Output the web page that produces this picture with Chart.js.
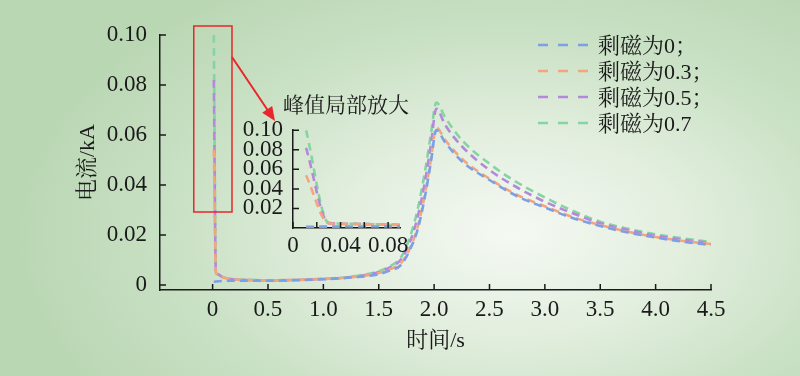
<!DOCTYPE html>
<html>
<head>
<meta charset="utf-8">
<script src="https://cdn.jsdelivr.net/npm/chart.js@4.4.1/dist/chart.umd.min.js"></script>
<style>
  html, body { margin: 0; padding: 0; }
  body {
    width: 800px; height: 376px; overflow: hidden; position: relative;
    background: radial-gradient(ellipse 62% 78% at 64% 62%, #f5f9f3 0%, #e2eede 35%, #c8e0c3 70%, #bad7b4 100%);
  }
  #main { position: absolute; left: 0; top: 0; }
  #inset { position: absolute; left: 215px; top: 90px; }
</style>
</head>
<body>
<canvas id="main" width="800" height="376"></canvas>
<canvas id="inset" width="270" height="172"></canvas>
<script>
// time (s)
const times = [0.011, 0.03, 0.05, 0.08, 0.12, 0.2, 0.3, 0.5, 0.75, 1.0, 1.25, 1.5, 1.6, 1.7, 1.78, 1.85, 1.92, 1.97,
  2.02, 2.1, 2.25, 2.5, 2.75, 3.0, 3.25, 3.5, 3.75, 4.0, 4.25, 4.5];

// current (kA) for each remanence level
const rem0 = [0.0013, 0.0014, 0.0015, 0.0016, 0.0017, 0.0017, 0.0017, 0.0017, 0.0019, 0.0023, 0.003, 0.0043, 0.0058, 0.008,
  0.014, 0.022, 0.036, 0.049, 0.062, 0.057, 0.0495, 0.042, 0.0355, 0.031, 0.0268, 0.0236, 0.021, 0.019, 0.0173, 0.016];
const rem03 = [0.054, 0.0048, 0.0041, 0.0033, 0.0027, 0.0022, 0.002, 0.0018, 0.002, 0.0024, 0.0031, 0.0048, 0.0063, 0.0088,
  0.0145, 0.023, 0.037, 0.05, 0.063, 0.058, 0.0505, 0.0425, 0.036, 0.0315, 0.0272, 0.024, 0.0213, 0.0192, 0.0176, 0.0164];
const rem05 = [0.082, 0.005, 0.0042, 0.0034, 0.0027, 0.0022, 0.002, 0.0018, 0.002, 0.0024, 0.0032, 0.0052, 0.007, 0.0102,
  0.017, 0.027, 0.042, 0.056, 0.0705, 0.064, 0.0555, 0.046, 0.039, 0.0333, 0.0287, 0.0247, 0.022, 0.0197, 0.0181, 0.0168];
const rem07 = [0.1, 0.0052, 0.0043, 0.0034, 0.0028, 0.0023, 0.0021, 0.0019, 0.0021, 0.0025, 0.0033, 0.0055, 0.0075, 0.011,
  0.019, 0.03, 0.046, 0.06, 0.073, 0.067, 0.058, 0.0485, 0.041, 0.035, 0.0297, 0.0253, 0.0225, 0.0203, 0.0186, 0.0172];

const seriesLabels = ['剩磁为0；', '剩磁为0.3；', '剩磁为0.5；', '剩磁为0.7'];
const seriesColors = ['#7d9fe3', '#f3a57b', '#b38ad9', '#84d5a2'];

const xTickValues = [0, 0.5, 1.0, 1.5, 2.0, 2.5, 3.0, 3.5, 4.0, 4.5];
const xTickLabels = ['0', '0.5', '1.0', '1.5', '2.0', '2.5', '3.0', '3.5', '4.0', '4.5'];
const yTickValues = [0, 0.02, 0.04, 0.06, 0.08, 0.1];
const yTickLabels = ['0', '0.02', '0.04', '0.06', '0.08', '0.10'];

const insetXTickValues = [0, 0.02, 0.04, 0.06, 0.08];
const insetXTickLabels = ['0', '', '0.04', '', '0.08'];
const insetYTickValues = [0.02, 0.04, 0.06, 0.08, 0.1];
const insetYTickLabels = ['0.02', '0.04', '0.06', '0.08', '0.10'];

const FONT = '"Liberation Serif", "Noto Serif CJK SC", "Noto Sans CJK SC", serif';
Chart.defaults.font.family = FONT;
Chart.defaults.color = '#1a1a1a';

function makeDatasets() {
  return [rem0, rem03, rem05, rem07].map((vals, i) => ({
    label: seriesLabels[i],
    data: times.map((t, j) => ({ x: t, y: vals[j] })),
    borderColor: seriesColors[i],
    borderWidth: 2.6,
    borderDash: [8, 5],
    pointRadius: 0,
    cubicInterpolationMode: 'monotone',
    fill: false
  }));
}

// tick marks pointing into the plot
const inwardTicks = {
  id: 'inwardTicks',
  afterDraw(chart) {
    const { ctx, chartArea, scales } = chart;
    ctx.save();
    ctx.strokeStyle = '#1a1a1a';
    ctx.lineWidth = 1.5;
    ctx.beginPath();
    scales.x.ticks.forEach(t => {
      const px = scales.x.getPixelForValue(t.value);
      ctx.moveTo(px, chartArea.bottom);
      ctx.lineTo(px, chartArea.bottom - 6);
    });
    scales.y.ticks.forEach(t => {
      const py = scales.y.getPixelForValue(t.value);
      ctx.moveTo(chartArea.left, py);
      ctx.lineTo(chartArea.left + 6, py);
    });
    ctx.stroke();
    ctx.restore();
  }
};

const legendAndZoomBox = {
  id: 'legendAndZoomBox',
  afterDraw(chart) {
    const { ctx, scales } = chart;
    // legend
    ctx.save();
    chart.data.datasets.forEach((ds, i) => {
      const y = 45 + i * 26;
      ctx.strokeStyle = ds.borderColor;
      ctx.lineWidth = 2.6;
      ctx.setLineDash([10, 10]);
      ctx.beginPath();
      ctx.moveTo(538, y);
      ctx.lineTo(590, y);
      ctx.stroke();
      ctx.setLineDash([]);
      ctx.fillStyle = '#1a1a1a';
      ctx.font = '22px ' + FONT;
      ctx.textBaseline = 'middle';
      ctx.fillText(ds.label, 598, y + 2);
    });
    // red box around the peak and arrow to the inset
    const x0 = scales.x.getPixelForValue(-0.17), x1 = scales.x.getPixelForValue(0.175);
    const y0 = scales.y.getPixelForValue(0.1036), y1 = scales.y.getPixelForValue(0.0292);
    ctx.strokeStyle = '#e8262b';
    ctx.fillStyle = '#e8262b';
    ctx.lineWidth = 1.5;
    ctx.strokeRect(x0, y0, x1 - x0, y1 - y0);
    const ax = x1, ay = y0 + 31, bx = 275, by = 121;
    const ang = Math.atan2(by - ay, bx - ax);
    ctx.lineWidth = 2;
    ctx.beginPath();
    ctx.moveTo(ax, ay);
    ctx.lineTo(bx - 10 * Math.cos(ang), by - 10 * Math.sin(ang));
    ctx.stroke();
    ctx.beginPath();
    ctx.moveTo(bx, by);
    ctx.lineTo(bx - 14 * Math.cos(ang) + 6 * Math.sin(ang), by - 14 * Math.sin(ang) - 6 * Math.cos(ang));
    ctx.lineTo(bx - 14 * Math.cos(ang) - 6 * Math.sin(ang), by - 14 * Math.sin(ang) + 6 * Math.cos(ang));
    ctx.closePath();
    ctx.fill();
    ctx.restore();
  }
};

new Chart(document.getElementById('main'), {
  type: 'line',
  data: { datasets: makeDatasets() },
  options: {
    responsive: false,
    animation: false,
    layout: { padding: { left: 71, right: 89, top: 35, bottom: 18 } },
    plugins: { legend: { display: false }, tooltip: { enabled: false } },
    scales: {
      x: {
        type: 'linear',
        min: -0.475,
        max: 4.5,
        afterBuildTicks: s => { s.ticks = xTickValues.map(v => ({ value: v })); },
        afterFit: s => { s.height = 68; },
        ticks: { callback: (v, i) => xTickLabels[i], font: { size: 23 }, padding: 6, maxRotation: 0, autoSkip: false },
        grid: { display: false, drawTicks: false },
        border: { display: true, color: '#1a1a1a', width: 1.5 },
        title: { display: true, text: '时间/s', font: { size: 22 }, padding: 4 }
      },
      y: {
        type: 'linear',
        min: -0.002,
        max: 0.1,
        afterBuildTicks: s => { s.ticks = yTickValues.map(v => ({ value: v })); },
        afterFit: s => { s.width = 89; },
        ticks: { callback: (v, i) => yTickLabels[i], font: { size: 23 }, padding: 13, autoSkip: false },
        grid: { display: false, drawTicks: false },
        border: { display: true, color: '#1a1a1a', width: 1.5 },
        title: { display: true, text: '电流/kA', font: { size: 22 }, padding: 4 }
      }
    }
  },
  plugins: [inwardTicks, legendAndZoomBox]
});

// inset: zoom on the first 0.09 s
new Chart(document.getElementById('inset'), {
  type: 'line',
  data: { datasets: makeDatasets() },
  options: {
    responsive: false,
    animation: false,
    layout: { padding: { left: 23, right: 31, top: 0, bottom: 0 } },
    plugins: {
      legend: { display: false },
      tooltip: { enabled: false },
      title: { display: true, text: '峰值局部放大', font: { size: 21, weight: 'normal' }, color: '#1a1a1a', padding: { top: 4, bottom: 11 } }
    },
    scales: {
      x: {
        type: 'linear',
        min: 0,
        max: 0.09,
        afterBuildTicks: s => { s.ticks = insetXTickValues.map(v => ({ value: v })); },
        afterFit: s => { s.height = 34; },
        ticks: { callback: (v, i) => insetXTickLabels[i], font: { size: 23 }, padding: 4, maxRotation: 0, autoSkip: false },
        grid: { display: false, drawTicks: false },
        border: { display: true, color: '#1a1a1a', width: 1.5 }
      },
      y: {
        type: 'linear',
        min: 0,
        max: 0.1,
        afterBuildTicks: s => { s.ticks = insetYTickValues.map(v => ({ value: v })); },
        afterFit: s => { s.width = 55; },
        ticks: { callback: (v, i) => insetYTickLabels[i], font: { size: 23 }, padding: 10, autoSkip: false },
        grid: { display: false, drawTicks: false },
        border: { display: true, color: '#1a1a1a', width: 1.5 }
      },
      // empty right-hand spacer so the title can be wider than the plot
      spacer: {
        type: 'linear',
        position: 'right',
        afterFit: s => { s.width = 54; },
        ticks: { display: false },
        grid: { display: false, drawTicks: false },
        border: { display: false }
      }
    }
  },
  plugins: [inwardTicks]
});
</script>
</body>
</html>
